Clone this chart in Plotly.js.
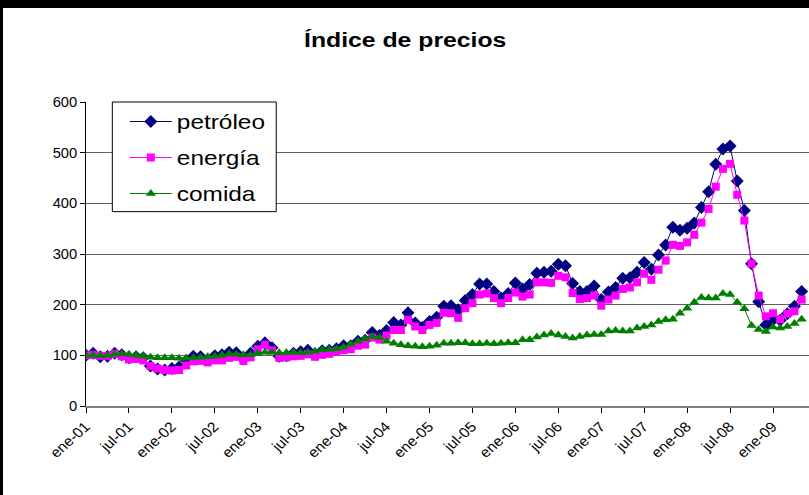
<!DOCTYPE html>
<html>
<head>
<meta charset="utf-8">
<script src="https://cdn.plot.ly/plotly-3.0.1.min.js"></script>
<style>
  html, body { margin: 0; padding: 0; background: #000; width: 809px; height: 495px; overflow: hidden; }
  #chart { position: absolute; left: 3px; top: 8px; width: 806px; height: 487px; background: #fff; }
</style>
</head>
<body>
<div id="chart"></div>
<script>
const monthNames = ['ene','feb','mar','abr','may','jun','jul','ago','sep','oct','nov','dic'];
const yearSuffixes = ['01','02','03','04','05','06','07','08','09'];

const petroleo = [
  100, 104, 97, 98, 104, 101, 95, 97, 95, 79, 73, 71,
  74, 77, 90, 98, 97, 92, 99, 101, 106, 105, 93, 104,
  118, 125, 115, 98, 99, 104, 107, 110, 102, 109, 110, 113,
  119, 119, 128, 130, 145, 139, 149, 165, 160, 184, 164, 155,
  167, 175, 197, 198, 190, 208, 220, 241, 241, 226, 213, 222,
  243, 231, 240, 262, 264, 266, 280, 277, 242, 226, 226, 237,
  210, 225, 234, 252, 253, 264, 283, 270, 298, 318, 353, 347,
  351, 361, 392, 423, 477, 507, 513, 444, 386, 281, 206, 160,
  170, 169, 182, 197, 226
];
const energia = [
  100, 101, 99, 99, 103, 98, 92, 93, 90, 79, 74, 71,
  70, 71, 80, 88, 89, 86, 90, 90, 95, 97, 89, 96,
  112, 121, 110, 95, 96, 98, 99, 102, 97, 101, 103, 108,
  110, 112, 119, 121, 135, 131, 139, 150, 150, 170, 157, 150,
  160, 164, 184, 183, 174, 193, 203, 220, 222, 213, 203, 213,
  224, 216, 220, 244, 244, 243, 257, 254, 223, 211, 213, 218,
  198, 210, 218, 231, 234, 244, 261, 249, 269, 287, 318, 316,
  323, 338, 362, 389, 433, 468, 478, 417, 366, 281, 218, 177,
  183, 171, 182, 187, 210
];
const comida = [
  100, 100, 99, 100, 102, 103, 102, 100, 98, 96, 95, 95,
  95, 94, 94, 95, 96, 97, 98, 100, 103, 102, 101, 101,
  104, 106, 106, 105, 105, 106, 105, 106, 108, 111, 112, 113,
  116, 122, 128, 133, 137, 135, 128, 124, 121, 119, 118, 117,
  118, 120, 124, 124, 125, 125, 123, 123, 124, 123, 124, 125,
  125, 131, 131, 136, 140, 143, 140, 137, 134, 137, 140, 141,
  141, 148, 149, 148, 148, 154, 157, 160, 167, 170, 171, 183,
  193, 205, 214, 213, 213, 222, 220, 205, 192, 159, 151, 147,
  156, 154, 157, 163, 171
];

// month category labels, e.g. "ene-01"
const monthLabels = [];
yearSuffixes.forEach(function (yy) {
  monthNames.forEach(function (m) { monthLabels.push(m + '-' + yy); });
});
const categories = monthLabels.slice(0, petroleo.length);
const tickLabels = ['ene-01','jul-01','ene-02','jul-02','ene-03','jul-03','ene-04','jul-04',
  'ene-05','jul-05','ene-06','jul-06','ene-07','jul-07','ene-08','jul-08','ene-09'];

const FONT = 'Liberation Sans, Arial, sans-serif';

const traces = [
  { name: 'petróleo', x: categories, y: petroleo, type: 'scatter', mode: 'lines+markers',
    legendgroup: 'a',
    line: { color: '#000080', width: 1 },
    marker: { symbol: 'diamond', size: 10, color: '#000080' } },
  { name: 'energía', x: categories, y: energia, type: 'scatter', mode: 'lines+markers',
    legendgroup: 'b',
    line: { color: '#FF00FF', width: 1 },
    marker: { symbol: 'square', size: 8, color: '#FF00FF' } },
  { name: 'comida', x: categories, y: comida, type: 'scatter', mode: 'lines+markers',
    legendgroup: 'c',
    line: { color: '#008000', width: 1 },
    marker: { symbol: 'triangle-up', size: 9, color: '#008000' } }
];

const layout = {
  width: 806, height: 487,
  paper_bgcolor: '#ffffff', plot_bgcolor: '#ffffff',
  margin: { l: 82.7, r: 0, t: 94.3, b: 88.6, pad: 0 },
  font: { family: FONT, color: '#000000', size: 14 },
  title: { text: '<b>Índice de precios</b>', font: { family: FONT, size: 21, color: '#000' },
           x: 0.499, xanchor: 'center', xref: 'container', y: 0.934, yanchor: 'middle', yref: 'container' },
  showlegend: true,
  legend: { x: 0.0537, y: 1.0, xanchor: 'left', yanchor: 'top', bgcolor: 'rgba(0,0,0,0)',
            borderwidth: 0, font: { family: FONT, size: 20, color: '#000' },
            tracegroupgap: 7, itemwidth: 42 },
  shapes: [
    { type: 'rect', xref: 'paper', yref: 'paper', x0: 0.0364, x1: 0.2631, y0: 0.6393, y1: 1.0,
      layer: 'above', fillcolor: '#ffffff', line: { color: '#000000', width: 1 } }
  ],
  xaxis: {
    type: 'category', range: [0, 101.03], autorange: false,
    tickmode: 'array', tickvals: tickLabels, ticktext: tickLabels,
    tickangle: -45, ticks: 'outside', ticklen: 5, tickcolor: '#000', tickwidth: 1,
    showline: true, linecolor: '#808080', linewidth: 2,
    showgrid: false, zeroline: false,
    tickfont: { family: FONT, size: 14, color: '#000' }
  },
  yaxis: {
    range: [0, 600], autorange: false, dtick: 100, tick0: 0,
    ticks: 'outside', ticklen: 5, tickcolor: '#000', tickwidth: 1,
    showline: true, linecolor: '#000', linewidth: 1,
    showgrid: true, gridcolor: '#606060', gridwidth: 1, zeroline: false,
    tickfont: { family: FONT, size: 14, color: '#000' }
  }
};

// horizontal stretch of rendered text about its anchor point (the reference text is wide)
function stretchText(el, s) {
  const x = parseFloat(el.getAttribute('x')) || 0;
  const y = parseFloat(el.getAttribute('y')) || 0;
  const svg = el.ownerSVGElement;
  const tl = el.transform.baseVal;
  const m = tl.numberOfItems ? tl.consolidate().matrix : svg.createSVGMatrix();
  const px = m.a * x + m.c * y + m.e;
  const a = s * m.a, b = m.b, c = s * m.c, d = m.d, e = s * m.e + px * (1 - s), f = m.f;
  el.setAttribute('transform', 'matrix(' + [a, b, c, d, e, f].join(',') + ')');
}

Plotly.newPlot('chart', traces, layout, { displayModeBar: false, staticPlot: true }).then(function (gd) {
  gd.querySelectorAll('.legend [clip-path]').forEach(function (el) { el.removeAttribute('clip-path'); });
  gd.querySelectorAll('.gtitle').forEach(function (el) { stretchText(el, 1.18); });
  gd.querySelectorAll('.legendtext').forEach(function (el) { stretchText(el, 1.22); });
  gd.querySelectorAll('g.xtick text').forEach(function (el) { stretchText(el, 1.12); });
  gd.querySelectorAll('g.ytick text').forEach(function (el) { stretchText(el, 1.05); });
});
</script>
</body>
</html>
